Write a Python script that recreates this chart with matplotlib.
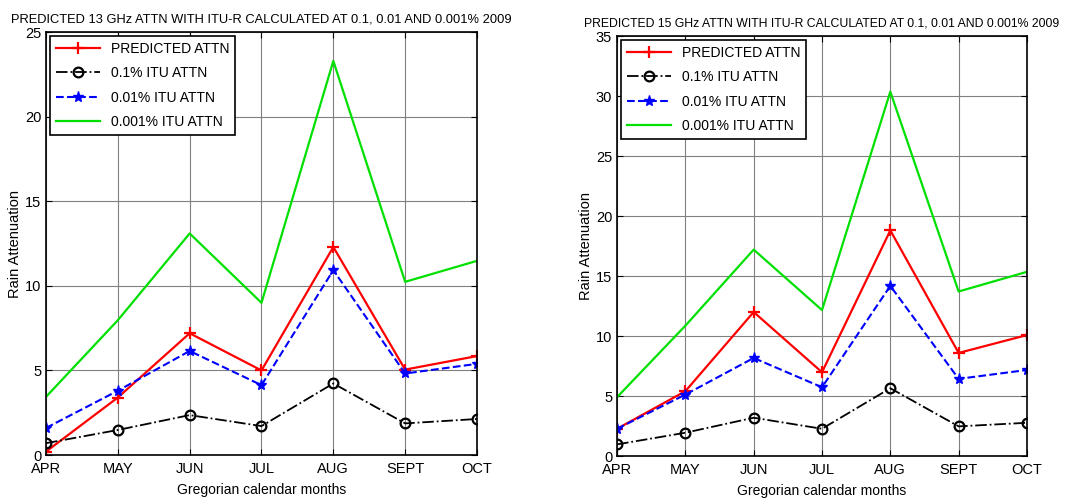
import numpy as np
import matplotlib
matplotlib.use('Agg')
import matplotlib.pyplot as plt

# months on the x axis
months = ['APR', 'MAY', 'JUN', 'JUL', 'AUG', 'SEPT', 'OCT']

# 13 GHz link
pred_13 = [0.2, 3.4, 7.2, 5.0, 12.3, 5.05, 5.85]
itu01_13 = [0.7, 1.48, 2.36, 1.71, 4.23, 1.87, 2.13]
itu001_13 = [1.6, 3.8, 6.15, 4.13, 10.93, 4.82, 5.39]
itu0001_13 = [3.44, 7.97, 13.1, 9.0, 23.3, 10.24, 11.48]

# 15 GHz link
pred_15 = [2.27, 5.4, 12.0, 6.98, 18.8, 8.59, 10.08]
itu01_15 = [0.97, 1.94, 3.19, 2.27, 5.65, 2.47, 2.77]
itu001_15 = [2.27, 5.12, 8.17, 5.73, 14.18, 6.43, 7.17]
itu0001_15 = [4.9, 10.86, 17.2, 12.16, 30.36, 13.71, 15.35]

titles = ['PREDICTED 13 GHz ATTN WITH ITU-R CALCULATED AT 0.1, 0.01 AND 0.001% 2009',
          'PREDICTED 15 GHz ATTN WITH ITU-R CALCULATED AT 0.1, 0.01 AND 0.001% 2009']
labels = ['PREDICTED ATTN', '0.1% ITU ATTN', '0.01% ITU ATTN', '0.001% ITU ATTN']
ymax = [25, 35]
title_size = [9.3, 8.8]

plt.rcParams['font.family'] = ['Liberation Sans', 'DejaVu Sans']

fig = plt.figure(figsize=(10.75, 5.03), dpi=100)
ax1 = fig.add_axes([0.0428, 0.0954, 0.4009, 0.8406])
ax2 = fig.add_axes([0.574, 0.0934, 0.3813, 0.8350])

data = [(pred_13, itu01_13, itu001_13, itu0001_13),
        (pred_15, itu01_15, itu001_15, itu0001_15)]

x = np.arange(len(months))
for ax, (p, a, b, c), title, top, tsz in zip([ax1, ax2], data, titles, ymax, title_size):
    ax.plot(x, p, color='red', lw=1.6, marker='+', ms=8, mew=1.6, label=labels[0])
    ax.plot(x, a, color='black', lw=1.3, ls='-.', marker='o', ms=7, mfc='none',
            mew=1.6, label=labels[1])
    ax.plot(x, b, color='blue', lw=1.5, ls='--', marker='*', ms=8, label=labels[2])
    ax.plot(x, c, color='#00e000', lw=1.6, label=labels[3])
    ax.set_xlim(0, len(months) - 1)
    ax.set_ylim(0, top)
    ax.set_xticks(x)
    ax.set_xticklabels(months)
    ax.set_yticks(np.arange(0, top + 1, 5))
    ax.grid(True, color='#808080', lw=0.8, ls='-')
    ax.tick_params(direction='in', labelsize=10.5, length=4, top=True, right=True)
    ax.tick_params(axis='x', pad=5)
    for s in ax.spines.values():
        s.set_linewidth(1.2)
    ax.set_xlabel('Gregorian calendar months', fontsize=10, labelpad=5)
    ax.set_ylabel('Rain Attenuation', fontsize=10.5, labelpad=2)
    ax.set_title(title, fontsize=tsz, pad=7)
    leg = ax.legend(loc='upper left', fontsize=10, fancybox=False, framealpha=1,
                    edgecolor='black', handlelength=3.2, borderaxespad=0.3,
                    labelspacing=0.75)
    leg.get_frame().set_linewidth(1.2)

fig.savefig('out.png', dpi=100)
